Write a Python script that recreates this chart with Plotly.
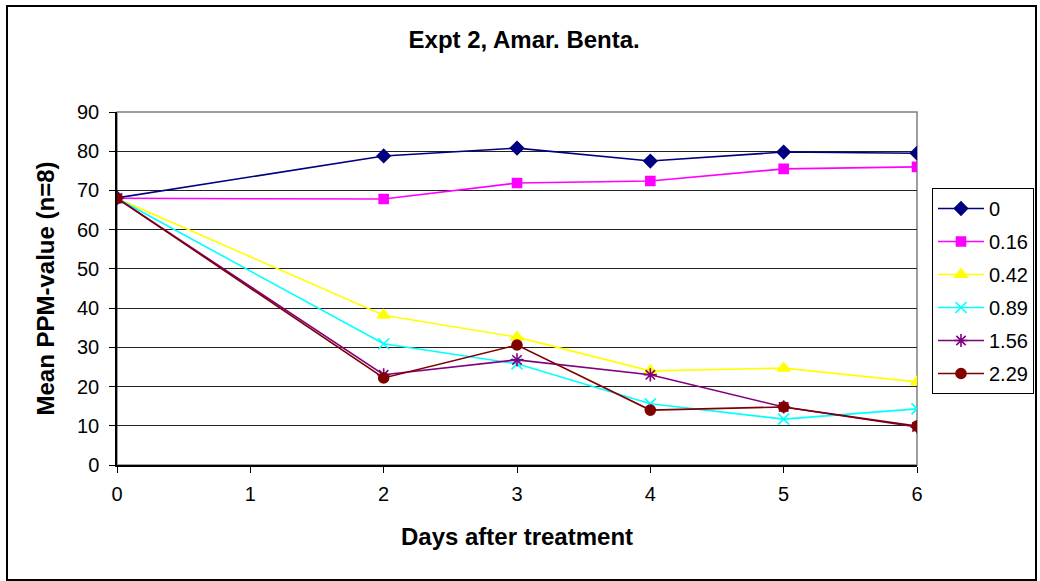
import plotly.graph_objects as go

days = [0, 2, 3, 4, 5, 6]
series_names = ["0", "0.16", "0.42", "0.89", "1.56", "2.29"]
s_0 = [68.1, 78.8, 80.8, 77.5, 79.8, 79.5]
s_016 = [68.0, 67.8, 71.9, 72.4, 75.5, 76.0]
s_042 = [68.0, 38.2, 32.6, 24.0, 24.7, 21.2]
s_089 = [68.0, 30.9, 25.8, 15.6, 11.7, 14.3]
s_156 = [68.0, 23.0, 26.8, 23.0, 14.8, 9.7]
s_229 = [68.0, 22.2, 30.6, 14.0, 14.8, 9.9]
x_ticks = [0, 1, 2, 3, 4, 5, 6]
y_ticks = [0, 10, 20, 30, 40, 50, 60, 70, 80, 90]

values = [s_0, s_016, s_042, s_089, s_156, s_229]
colors = ["#000080", "#FF00FF", "#FFFF00", "#00FFFF", "#800080", "#800000"]
symbols = ["diamond", "square", "triangle-up", "x-thin-open", "asterisk-open", "circle"]
sizes = [10, 9, 11, 11, 11, 10]

FONT = "Liberation Sans, Arial, sans-serif"

fig = go.Figure()
for i, (name, vals) in enumerate(zip(series_names, values)):
    fig.add_trace(go.Scatter(
        x=days, y=vals, name=name, mode="lines+markers",
        legendgroup=name,
        line=dict(color=colors[i], width=1.6),
        marker=dict(symbol=symbols[i], size=sizes[i], color=colors[i],
                    line=dict(color=colors[i], width=1.6)),
    ))

L, R, T, B = 117, 123, 112, 116
fig.update_layout(
    width=1040, height=581,
    margin=dict(l=L, r=R, t=T, b=B, autoexpand=False),
    paper_bgcolor="white", plot_bgcolor="white",
    font=dict(family=FONT, size=20, color="black"),
    title=dict(text="<b>Expt 2, Amar. Benta.</b>", x=0.504, xanchor="center",
               y=1 - 40 / 581, yanchor="middle", font=dict(size=24, family=FONT)),
    xaxis=dict(
        range=[0, 6], tickvals=x_ticks, ticktext=[str(v) for v in x_ticks],
        showline=True, linecolor="black", linewidth=1.5,
        ticks="outside", ticklen=6, tickcolor="black", tickwidth=1,
        showgrid=False, zeroline=False,
        title=dict(text="<b>Days after treatment</b>", font=dict(size=24), standoff=24),
        ticklabelstandoff=4,
    ),
    yaxis=dict(
        range=[0, 90], tickvals=y_ticks,
        showline=True, linecolor="black", linewidth=1.5,
        ticks="outside", ticklen=6, tickcolor="black", tickwidth=1,
        showgrid=True, gridcolor="#222222", gridwidth=1, zeroline=False,
        title=dict(text="<b>Mean PPM-value (n=8)</b>", font=dict(size=24), standoff=16),
        ticklabelstandoff=6,
    ),
    legend=dict(
        x=(932 - L) / 800, xanchor="left", y=(465 - 188) / 353, yanchor="top",
        bgcolor="white", bordercolor="black", borderwidth=1,
        font=dict(size=20), tracegroupgap=4, traceorder="grouped",
        itemwidth=46,
    ),
    shapes=[
        dict(type="rect", xref="paper", yref="paper", x0=0, x1=1, y0=0, y1=1,
             line=dict(color="#808080", width=1.5), layer="below"),
        dict(type="rect", xref="paper", yref="paper",
             x0=(7 - L) / 800, x1=(1036 - L) / 800,
             y0=(465 - 580) / 353, y1=(465 - 6) / 353,
             line=dict(color="black", width=2), layer="below"),
    ],
)

fig.write_html("out.html")
